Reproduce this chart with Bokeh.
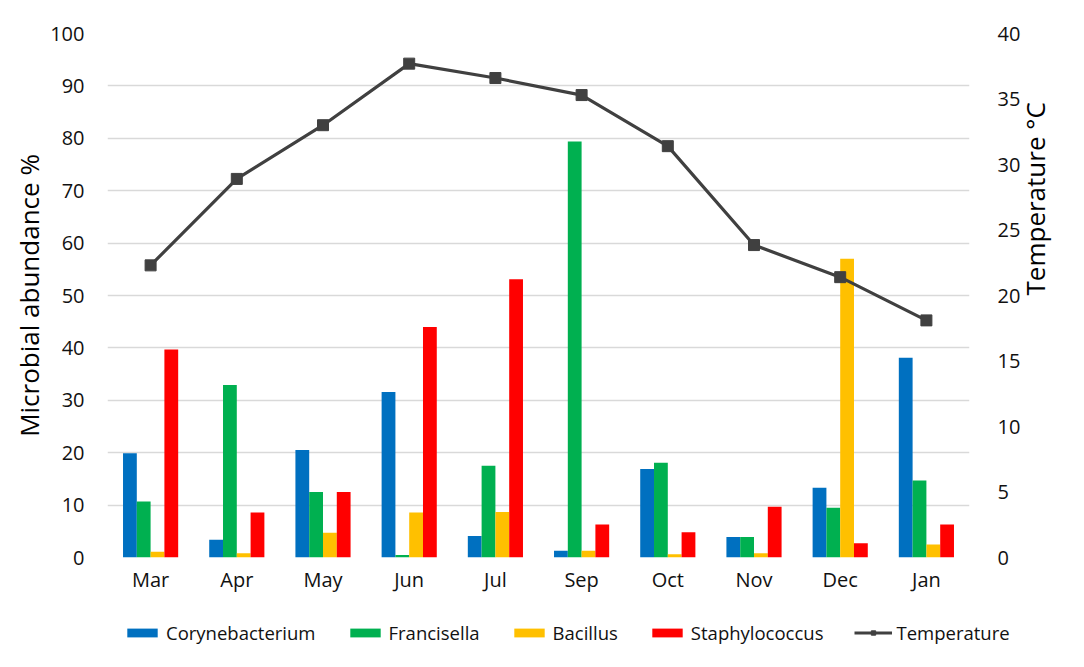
import math
from bokeh.plotting import figure
from bokeh.models import (ColumnDataSource, FactorRange, Range1d, LinearAxis,
                          Legend, LegendItem, SingleIntervalTicker)
from bokeh.transform import dodge
from bokeh.embed import file_html
from bokeh.resources import INLINE

months = ["Mar", "Apr", "May", "Jun", "Jul", "Sep", "Oct", "Nov", "Dec", "Jan"]
corynebacterium = [19.9, 3.4, 20.5, 31.6, 4.1, 1.3, 16.9, 3.9, 13.3, 38.1]
francisella = [10.7, 32.9, 12.5, 0.5, 17.5, 79.4, 18.1, 3.9, 9.5, 14.7]
bacillus = [1.1, 0.8, 4.7, 8.6, 8.7, 1.3, 0.6, 0.8, 57.0, 2.5]
staphylococcus = [39.7, 8.6, 12.5, 44.0, 53.1, 6.3, 4.8, 9.7, 2.7, 6.3]
temperature = [22.3, 28.9, 33.0, 37.7, 36.6, 35.3, 31.4, 23.85, 21.4, 18.1]

series_names = ["Corynebacterium", "Francisella", "Bacillus", "Staphylococcus"]
series_keys = ["cory", "fran", "baci", "staph"]
colors = ["#0070C0", "#00B050", "#FFC000", "#FF0000"]
offsets = [-0.24, -0.08, 0.08, 0.24]
line_color = "#404040"

source = ColumnDataSource(dict(month=months, cory=corynebacterium, fran=francisella,
                               baci=bacillus, staph=staphylococcus, temp=temperature))

FONT = "Open Sans"

p = figure(width=1084, height=600, x_range=FactorRange(*months),
           y_range=Range1d(0, 100), output_backend="svg", toolbar_location=None,
           min_border_left=107, min_border_right=115, min_border_top=33,
           min_border_bottom=43)
p.outline_line_color = None
p.background_fill_color = "white"
p.border_fill_color = "white"

p.extra_y_ranges = {"temp": Range1d(0, 40)}

for key, col, off in zip(series_keys, colors, offsets):
    p.vbar(x=dodge("month", off, range=p.x_range), top=key, width=0.16,
           source=source, fill_color=col, line_color=None)

p.line(x="month", y="temp", source=source, y_range_name="temp",
       line_color=line_color, line_width=3.2)
p.scatter(x="month", y="temp", source=source, y_range_name="temp",
          marker="square", size=11, fill_color=line_color, line_color=line_color)

# grids
p.xgrid.visible = False
p.ygrid.grid_line_color = "#D9D9D9"
p.ygrid.grid_line_width = 1.5
p.yaxis.ticker = SingleIntervalTicker(interval=10)

# left axis
ya = p.yaxis[0]
ya.axis_label = "Microbial abundance %"
ya.axis_label_text_font = FONT
ya.axis_label_text_font_size = "26px"
ya.axis_label_text_font_style = "normal"
ya.axis_label_text_color = "black"
ya.axis_label_standoff = 0
ya.major_label_text_font = FONT
ya.major_label_text_font_size = "20px"
ya.major_label_text_color = "#111111"
ya.major_label_standoff = 17
ya.axis_line_color = None
ya.major_tick_line_color = None
ya.minor_tick_line_color = None

# right axis
ra = LinearAxis(y_range_name="temp", ticker=SingleIntervalTicker(interval=5))
ra.axis_label = "Temperature °C"
ra.axis_label_text_font = FONT
ra.axis_label_text_font_size = "26px"
ra.axis_label_text_font_style = "normal"
ra.axis_label_text_color = "black"
ra.axis_label_standoff = 12
ra.axis_label_orientation = math.pi / 2
ra.axis_label_text_align = "center"
ra.axis_label_text_baseline = "middle"
ra.major_label_text_font = FONT
ra.major_label_text_font_size = "20px"
ra.major_label_text_color = "#111111"
ra.major_label_standoff = 22
ra.axis_line_color = None
ra.major_tick_line_color = None
ra.minor_tick_line_color = None
p.add_layout(ra, "right")

# bottom axis
xa = p.xaxis[0]
xa.major_label_text_font = FONT
xa.major_label_text_font_size = "20px"
xa.major_label_text_color = "#111111"
xa.major_label_standoff = 2
xa.axis_line_color = None
xa.major_tick_line_color = None
xa.minor_tick_line_color = None

# legend strip: a separate root (not aligned to the chart frame) so the legend
# can span the full width; its renderers use the same data but lie far
# outside this strip's visible y range
lg = figure(width=1084, height=50, x_range=FactorRange(*months),
            y_range=Range1d(1000, 1001),
            output_backend="svg", toolbar_location=None,
            min_border=0, min_border_left=0, min_border_right=0,
            min_border_top=0, min_border_bottom=0)
lg.axis.visible = False
lg.grid.visible = False
lg.outline_line_color = None
lg.background_fill_color = "white"
lg.border_fill_color = "white"

items = []
for key, name, col in zip(series_keys, series_names, colors):
    r = lg.vbar(x="month", top=key, width=0.16, source=source,
                fill_color=col, line_color=None)
    items.append(LegendItem(label=name, renderers=[r]))
l1 = lg.line(x="month", y="temp", source=source, line_color=line_color, line_width=3)
l2 = lg.scatter(x="month", y="temp", source=source, marker="square", size=10,
                fill_color=line_color, line_color=line_color)
items.append(LegendItem(label="Temperature", renderers=[l1, l2]))

legend = Legend(items=items, orientation="horizontal", location=(123, 5),
                padding=0, margin=0, spacing=30, label_standoff=5,
                glyph_width=38, glyph_height=11,
                label_text_font=FONT, label_text_font_size="18.5px",
                label_text_color="#111111",
                background_fill_alpha=0, border_line_alpha=0)
lg.add_layout(legend, "center")

open("out.html", "w").write(file_html([p, lg], INLINE))
